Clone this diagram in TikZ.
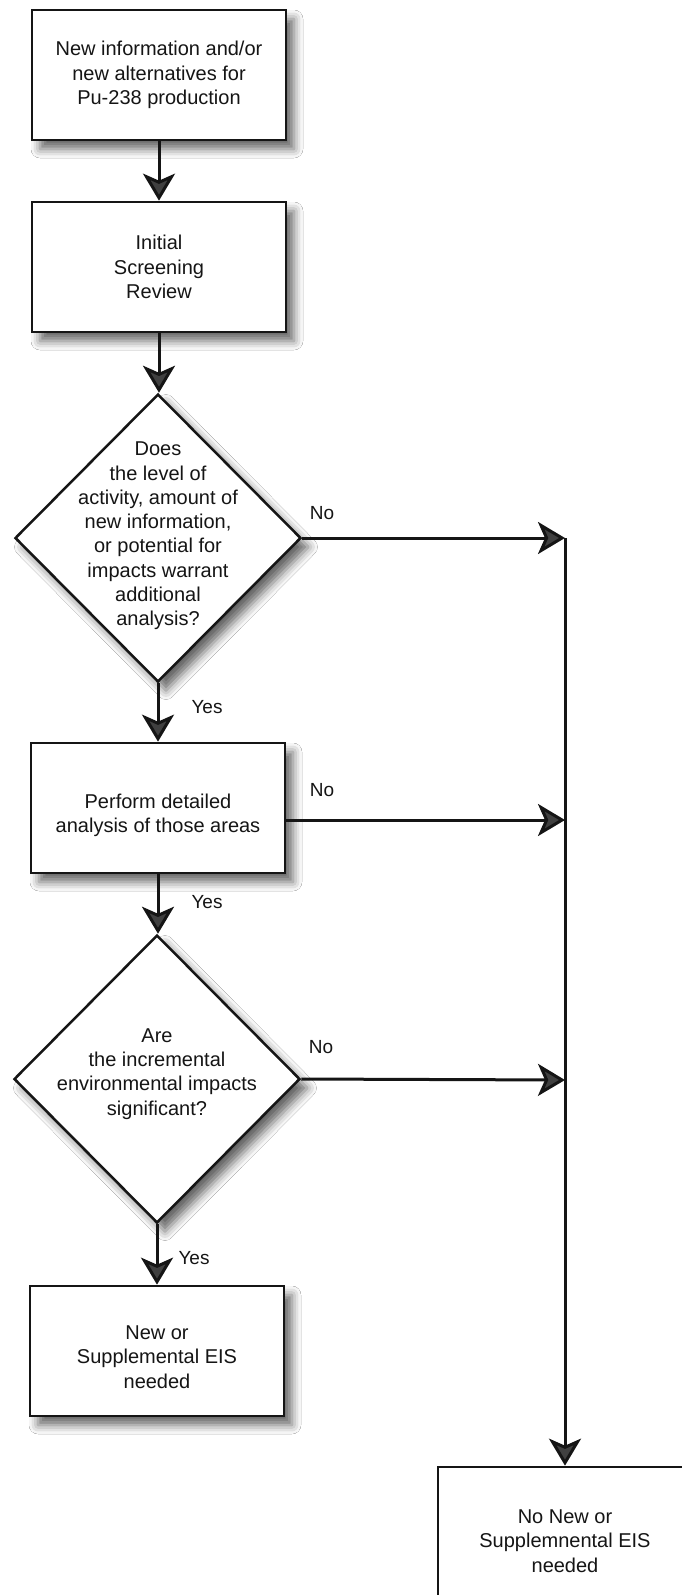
\documentclass[tikz,border=0pt]{standalone}
\usepackage{fontspec}
\setmainfont{Liberation Sans}
\usetikzlibrary{arrows.meta,shapes.geometric,shadows.blur}
\definecolor{ink}{HTML}{151515}
\begin{document}
\begin{tikzpicture}[x=1pt,y=-1pt,
  shad/.style={blur shadow={shadow xshift=8pt, shadow yshift=-9pt, shadow blur radius=9pt, shadow opacity=60}},
  box/.style={draw=ink, line width=2.7pt, fill=white, minimum width=254pt, minimum height=130pt,
    inner sep=0pt, align=center, text=ink, font=\fontsize{20}{24.3}\selectfont, shad},
  dia/.style={diamond, draw=ink, line width=2.5pt, fill=white, minimum width=286pt,
    minimum height=288pt, inner sep=0pt, shad},
  txt/.style={align=center, inner sep=0pt, text=ink, font=\fontsize{20}{24.3}\selectfont},
  lbl/.style={inner sep=0pt, text=ink, font=\fontsize{19}{22}\selectfont},
  arr/.style={draw=ink, line width=3pt, -{Stealth[length=27pt,width=32pt,inset=7pt,fill=black!75]}}]
\useasboundingbox (0,0) rectangle (682,1595);
\fill[white] (0,0) rectangle (682,1595);

% nodes
\node[box] (b1) at (159,75) {New information and/or\\new alternatives for\\Pu-238 production};
\node[box] (b2) at (159,267) {Initial\\Screening\\Review};
\node[dia] (d1) at (158,538) {};
\node[txt] (t1) at (158,536) {Does\\the level of\\activity, amount of\\new information,\\or potential for\\impacts warrant\\additional\\analysis?};
\node[box] (b3) at (158,808) {};
\node[txt] (t3) at (158,815) {Perform detailed\\analysis of those areas};
\node[dia] (d2) at (157,1079) {};
\node[txt] (t2) at (157,1074) {Are\\the incremental\\environmental impacts\\significant?};
\node[box] (b4) at (157,1351) {};
\node[txt] (t4) at (157,1357) {New or\\Supplemental EIS\\needed};
\node[box] (b5) at (565,1532) {};
\node[txt] (t5) at (565,1541) {No New or\\Supplemnental EIS\\needed};

% junction coordinates on the right vertical line
\coordinate (c1) at (565,538);
\coordinate (c2) at (565,820);
\coordinate (c3) at (565,1080);

% vertical connectors
\draw[arr] (b1.south) -- (b1.south |- b2.north);
\draw[arr] (b2.south) -- (b2.south |- d1.north);
\draw[arr] (d1.south) -- (d1.south |- b3.north);
\draw[arr] (b3.south) -- (b3.south |- d2.north);
\draw[arr] (d2.south) -- (d2.south |- b4.north);

% No branches
\draw[arr] (d1.east) -- (c1);
\draw[arr] (b3.east |- c2) -- (c2);
\draw[arr] (d2.east) -- (c3);
\draw[arr] (c1) -- (b5.north);

% labels
\node[lbl] (y1) at (207,707) {Yes};
\node[lbl] (y2) at (207,902) {Yes};
\node[lbl] (y3) at (194,1258) {Yes};
\node[lbl] (n1) at (322,513) {No};
\node[lbl] (n2) at (322,790) {No};
\node[lbl] (n3) at (321,1047) {No};
\end{tikzpicture}
\end{document}
